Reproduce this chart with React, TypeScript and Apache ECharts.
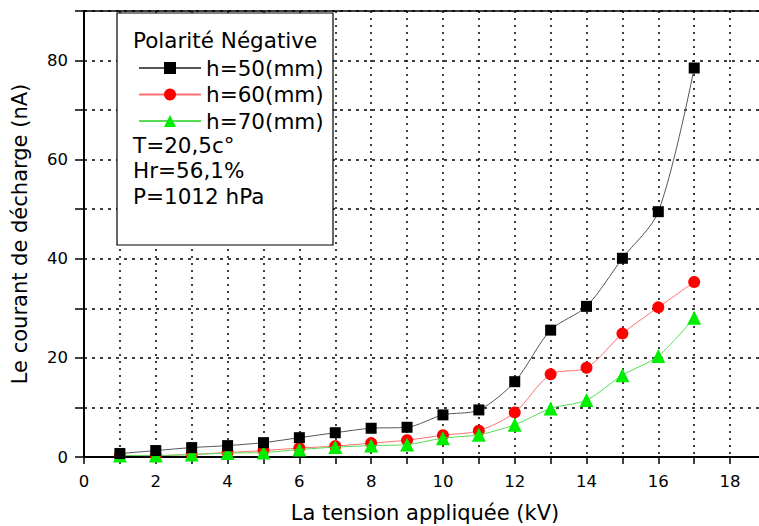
import React, { useEffect, useRef } from "react";
import * as echarts from "echarts";

const voltages = [1, 2, 3, 4, 5, 6, 7, 8, 9, 10, 11, 12, 13, 14, 15, 16, 17];
const h50 = [0.7, 1.3, 1.9, 2.3, 2.9, 3.9, 4.9, 5.8, 6.0, 8.5, 9.5, 15.2, 25.6, 30.4, 40.1, 49.5, 78.5];
const h60 = [0.3, 0.3, 0.5, 0.9, 1.3, 1.8, 2.2, 2.8, 3.4, 4.4, 5.3, 9.0, 16.7, 18.0, 24.9, 30.2, 35.3];
const h70 = [0.3, 0.3, 0.5, 0.8, 0.9, 1.5, 2.0, 2.3, 2.5, 3.8, 4.5, 6.5, 9.8, 11.5, 16.5, 20.4, 28.1];
const seriesNames = ["h=50(mm)", "h=60(mm)", "h=70(mm)"];
const legendTitle = "Polarité Négative";
const conditions = ["T=20,5c°", "Hr=56,1%", "P=1012 hPa"];
const xTitle = "La tension appliquée (kV)";
const yTitle = "Le courant de décharge (nA)";

const FONT = "DejaVu Sans, Arial, sans-serif";

export default function App() {
  const ref = useRef<HTMLDivElement>(null);
  useEffect(() => {
    if (!ref.current) return;
    const chart = echarts.init(ref.current, null, { renderer: "svg" });
    const pair = (ys: number[]) => voltages.map((x, i) => [x, ys[i]]);
    const dotted = { show: true, lineStyle: { color: "#000", type: [2, 5], width: 1.5 } };
    const dashedH = { show: true, lineStyle: { color: "#000", type: [3, 5], width: 1.5 } };
    const legendText = (t: string, y: number) => ({
      type: "text",
      z: 7,
      style: {
        text: t,
        x: 133,
        y,
        verticalAlign: "middle",
        fill: "#000",
        fontSize: 21.5,
        fontFamily: FONT,
      },
    });
    chart.setOption({
      animation: false,
      backgroundColor: "#fff",
      grid: {
        left: 84,
        top: 11,
        width: 682,
        height: 446,
        containLabel: false,
        outerBoundsMode: "none",
      },
      xAxis: [
        {
          type: "value",
          min: 0,
          max: 19,
          interval: 2,
          position: "bottom",
          name: xTitle,
          nameLocation: "middle",
          nameGap: 45,
          nameTextStyle: { fontSize: 21, color: "#000", fontFamily: FONT },
          axisLine: { show: true, lineStyle: { color: "#000", width: 2 } },
          axisTick: { show: true, length: 7, lineStyle: { color: "#000", width: 1.5 } },
          minorTick: { show: true, splitNumber: 2, length: 7, lineStyle: { color: "#000", width: 1.5 } },
          axisLabel: { fontSize: 16.5, color: "#000", fontFamily: FONT, margin: 16, showMaxLabel: false },
          splitLine: dotted,
          minorSplitLine: dotted,
        },
        {
          type: "value",
          min: 0,
          max: 19,
          position: "top",
          axisLine: { show: true, lineStyle: { color: "#000", width: 1.5 } },
          axisTick: { show: false },
          axisLabel: { show: false },
          splitLine: { show: false },
        },
      ],
      yAxis: {
        type: "value",
        min: 0,
        max: 90,
        interval: 10,
        name: yTitle,
        nameLocation: "middle",
        nameGap: 54,
        nameTextStyle: { fontSize: 21, color: "#000", fontFamily: FONT },
        axisLine: { show: true, lineStyle: { color: "#000", width: 2 } },
        axisTick: { show: true, length: 9, lineStyle: { color: "#000", width: 1.5 } },
        axisLabel: {
          fontSize: 16.5,
          color: "#000",
          fontFamily: FONT,
          margin: 16,
          formatter: (v: number) => (v % 20 === 0 && v <= 80 ? String(v) : ""),
        },
        splitLine: dashedH,
      },
      legend: {
        orient: "vertical",
        left: 133,
        top: 52,
        itemWidth: 62,
        itemHeight: 15,
        itemGap: 4.5,
        z: 6,
        textStyle: { fontSize: 21.5, color: "#000", fontFamily: FONT },
        data: seriesNames,
      },
      graphic: [
        {
          type: "rect",
          z: 5,
          shape: { x: 117, y: 13, width: 216, height: 232 },
          style: { fill: "#fff", stroke: "#000", lineWidth: 1.2 },
        },
        legendText(legendTitle, 40),
        ...conditions.map((t, i) => legendText(t, 145 + i * 25.5)),
      ],
      series: [
        {
          name: seriesNames[0],
          type: "line",
          data: pair(h50),
          smooth: 0.3,
          symbol: "rect",
          symbolSize: 11,
          itemStyle: { color: "#000" },
          lineStyle: { color: "#555", width: 1 },
          z: 4,
        },
        {
          name: seriesNames[1],
          type: "line",
          data: pair(h60),
          smooth: 0.3,
          symbol: "circle",
          symbolSize: 12,
          itemStyle: { color: "#ff0000" },
          lineStyle: { color: "#ff7070", width: 1 },
          z: 3,
        },
        {
          name: seriesNames[2],
          type: "line",
          data: pair(h70),
          smooth: 0.3,
          symbol: "triangle",
          symbolSize: 14,
          itemStyle: { color: "#00ee00" },
          lineStyle: { color: "#55dd55", width: 1 },
          z: 3.5,
        },
      ],
    });
    return () => chart.dispose();
  }, []);
  return (
    <div
      ref={ref}
      style={{ position: "fixed", left: 0, top: 0, width: 759, height: 526, background: "#fff" }}
    />
  );
}
